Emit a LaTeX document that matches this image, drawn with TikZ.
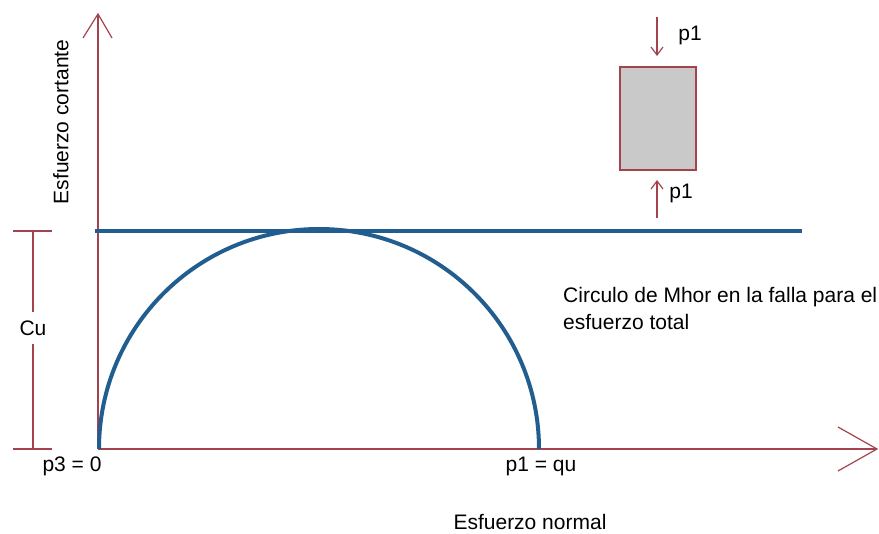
\documentclass[tikz,border=0pt]{standalone}
\usepackage{fontspec}
\setmainfont{Liberation Sans}
\usetikzlibrary{arrows.meta}
\definecolor{axisred}{HTML}{A3434D}
\definecolor{mblue}{HTML}{215E8F}
\definecolor{boxgray}{HTML}{C9C9C9}
\begin{document}
\begin{tikzpicture}[x=1pt,y=-1pt,
  axisline/.style={draw=axisred,line width=1.2pt},
  bluel/.style={draw=mblue,line width=4pt},
  lbl/.style={font=\fontsize{21}{27}\selectfont,inner sep=0pt},
  pa/.style={draw=axisred,line width=1.2pt,-{Straight Barb[length=8pt,width=12pt]}}]
\useasboundingbox (0,0) rectangle (879,534);
% axes
\coordinate (O) at (98,449);
\coordinate (ytip) at (98,14);
\coordinate (xtip) at (877,449);
\draw[axisline] (O) -- (ytip);
\draw[axisline] (83,38) -- (ytip) -- (112,38);
\draw[axisline] (O) -- (xtip);
\draw[axisline] (838,427) -- (xtip) -- (838,471);
% blue horizontal line and semicircle
\coordinate (hl) at (95,231);
\coordinate (hr) at (802,231);
\draw[bluel] (hl) -- (hr);
\draw[bluel] (99,449) arc[start angle=180,end angle=360,radius=220];
% Cu dimension
\coordinate (ct1) at (13,231);
\coordinate (ct2) at (52,231);
\coordinate (cb1) at (13,449);
\coordinate (cb2) at (52,449);
\draw[axisline] (ct1) -- (ct2);
\draw[axisline] (cb1) -- (cb2);
\node[lbl] (cu) at (33,328) {Cu};
\draw[axisline] (33,231) -- ([yshift=8pt]cu.north);
\draw[axisline] ([yshift=-8pt]cu.south) -- (33,449);
% labels
\node[lbl] (p3) at (72,466) {p3 = 0};
\node[lbl] (p1q) at (541,466) {p1 = qu};
\node[lbl] (en) at (530,522) {Esfuerzo normal};
\node[lbl,rotate=90] (ec) at (61,122) {Esfuerzo cortante};
\node[lbl,align=left,anchor=north west] (circ) at (563,287) {Circulo de Mhor en la falla para el\\esfuerzo total};
% sample box
\node[draw=axisred,line width=1.2pt,fill=boxgray,minimum width=76pt,minimum height=103pt,inner sep=0pt] (box) at (658,118.5) {};
\coordinate (ta) at (657,17);
\coordinate (ba) at (657,218);
\draw[pa] (ta) -- (657,56);
\draw[pa] (ba) -- (657,180);
\node[lbl] (p1t) at (690,35) {p1};
\node[lbl] (p1b) at (681,193) {p1};
\end{tikzpicture}
\end{document}
